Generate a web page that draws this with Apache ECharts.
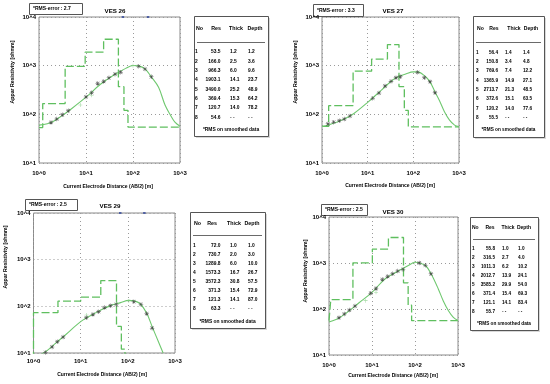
<!DOCTYPE html>
<html><head><meta charset="utf-8">
<script src="https://cdn.jsdelivr.net/npm/echarts/dist/echarts.min.js"></script>
<style>html,body{margin:0;padding:0;background:#fff}#c{width:550px;height:384px}</style>
</head><body><div id="c"></div>
<script>
// ---------- DATA ----------
const xTickLabels = ['10^0','10^1','10^2','10^3'];
const yTickLabels = ['10^1','10^2','10^3','10^4'];
const titles = ['VES 26','VES 27','VES 29','VES 30'];
const rmsErrors = ['2.7','3.3','2.5','2.5'];
const tableHeader = ['No','Res','Thick','Depth'];
const layerNo = ['1','2','3','4','5','6','7','8'];

// VES 26
const res26 = ['53.5','166.0','966.3','1903.1','3490.0','369.4','120.7','54.6'];
const thick26 = ['1.2','2.5','6.0','14.1','25.2','15.3','14.0','- -'];
const depth26 = ['1.2','3.6','9.6','23.7','48.9','64.2','78.2','- -'];
const stepRes26 = [53.5,166.0,966.3,1903.1,3490.0,369.4,120.7,54.6];
const stepDepth26 = [1.2,3.6,9.6,23.7,48.9,64.2,78.2];
const obs26X = [1.80,2.38,3.14,4.2,10,13.2,17.7,23.8,30.8,41.4,54.6,132,180,245];
const obs26Y = [68,80,98,119,228,279,432,474,562,667,732,968,850,589];
const lite26X = [7.57,13.2,100];
const lite26Y = [155,247,1000];
const calc26X = [1,1.5,2,3,5,10,20,40,70,100,130,180,245,350,480,620,780,1000];
const calc26Y = [60,64,71,92,132,225,410,650,880,1010,990,860,590,360,155,98,69,57];
const top26X = [61,209];

// VES 27
const res27 = ['56.4','150.8','769.6','1365.9','2713.7','372.6','120.2','55.5'];
const thick27 = ['1.4','3.4','7.4','14.9','21.3','15.1','14.0','- -'];
const depth27 = ['1.4','4.8','12.2','27.1','48.5','63.5','77.6','- -'];
const stepRes27 = [56.4,150.8,769.6,1365.9,2713.7,372.6,120.2,55.5];
const stepDepth27 = [1.4,4.8,12.2,27.1,48.5,63.5,77.6];
const obs27X = [1.35,1.8,2.4,3.08,4.1,12.9,17.7,24,32.4,41.7,51.9,124,174,232,298];
const obs27Y = [64,69,74,80,92,213,274,382,476,567,594,730,567,469,278];
const lite27X = [];
const lite27Y = [];
const calc27X = [1,1.5,2,3,5,10,20,40,70,100,125,175,230,300,370,480,615,800,1000];
const calc27Y = [56,62,68,79,104,176,315,550,680,745,745,620,470,285,195,113,77,60,56];
const top27X = [];

// VES 29
const res29 = ['72.0','730.7','1289.8','1573.3','3572.3','371.3','121.3','63.3'];
const thick29 = ['1.0','2.0','6.0','16.7','30.8','15.4','14.1','- -'];
const depth29 = ['1.0','3.0','10.0','26.7','57.5','72.9','87.0','- -'];
const stepRes29 = [7.2,73.1,129.0,157.3,357.2,37.1,12.1,6.3];
const stepDepth29 = [1.0,3.3,10.0,26.7,57.5,72.9,87.0];
const obs29X = [1.79,2.48,3.21,4.24,13.2,18.2,24,32.1,43,56.7,134,190,251,327];
const obs29Y = [10.3,13.5,17.5,22,57,67,77,94,103,110,126,110,70,34];
const lite29X = [13.4,105];
const lite29Y = [65,130];
const calc29X = [1.2,1.6,2,3,5,10,20,40,70,105,135,180,250,330,450,560];
const calc29Y = [8.4,9.9,11.5,16.5,25.5,47,71,101,120,134,131,115,72,36,17,10];
const top29X = [69,224];

// VES 30
const res30 = ['55.8','316.5','1011.3','2012.7','3585.2','371.4','121.1','55.7'];
const thick30 = ['1.0','2.7','6.2','13.9','29.9','15.4','14.1','- -'];
const depth30 = ['1.0','4.0','10.2','24.1','54.0','69.3','83.4','- -'];
const stepRes30 = [55.8,160,1011.3,2012.7,3585.2,371.4,121.1,55.7];
const stepDepth30 = [1.1,3.6,10.2,24.1,54.0,69.3,83.4];
const obs30X = [1.71,2.27,2.97,4.02,9.3,12.4,17.4,23.1,30.2,39.5,52.6,126,174,235];
const obs30Y = [64.6,78,95,116,220,279,439,510,583,668,726,1000,889,583];
const lite30X = [7.1,12.4,96];
const lite30Y = [152,232,1017];
const calc30X = [1,1.5,2,3,5,10,20,40,70,100,130,180,240,350,455,600,780,1000];
const calc30Y = [52,60,70,92,137,230,450,660,880,1040,1000,860,570,270,150,92,66,56];
const top30X = [];

// ---------- LAYOUT (positions / styles only) ----------
const FONT = 'Liberation Sans';
const layout = [
  {grid:{left:39,top:17,width:141,height:146}, xm:7, rms:[29,3,53,11], title:[115,11],
   xname:[108,187], yname:[13,72],
   tbl:{x:194,y:16,w:74,h:120,fs:4.9,hs:5.3,hy:29,ly:42,r1:52,rs:9.35,fy:130,no:195,res:220.5,th:230,dp:248,hc:[196,216,236,255]}},
  {grid:{left:322,top:17,width:137,height:146}, xm:7, rms:[313,4,50,12], title:[393,11],
   xname:[390,186], yname:[296,72],
   tbl:{x:473,y:16,w:71,h:121,fs:4.7,hs:5.1,hy:29,ly:42,r1:52.5,rs:9.3,fy:130,no:476,res:498,th:505,dp:523,hc:[477,494,514,531]}},
  {grid:{left:33.5,top:213,width:141.5,height:140}, xm:5, rms:[25,199,52,11], title:[110,206],
   xname:[102,375], yname:[6,257],
   tbl:{x:190,y:212,w:75,h:116,fs:4.9,hs:5.3,hy:224,ly:235,r1:245.5,rs:9.05,fy:322,no:193,res:220.5,th:230,dp:248,hc:[194,212,234,252]}},
  {grid:{left:329,top:217,width:129,height:138}, xm:7, rms:[321,204,46,11], title:[393,212],
   xname:[393,376], yname:[306,271],
   tbl:{x:470,y:217,w:68,h:113,fs:4.7,hs:5.0,hy:228,ly:239,r1:249,rs:8.9,fy:324,no:472,res:495,th:502,dp:518,hc:[472,490,508,524]}}
];

const panelData = [
  {res:res26,thick:thick26,depth:depth26,sr:stepRes26,sd:stepDepth26,ox:obs26X,oy:obs26Y,lx:lite26X,ly:lite26Y,cx:calc26X,cy:calc26Y,tx:top26X},
  {res:res27,thick:thick27,depth:depth27,sr:stepRes27,sd:stepDepth27,ox:obs27X,oy:obs27Y,lx:lite27X,ly:lite27Y,cx:calc27X,cy:calc27Y,tx:top27X},
  {res:res29,thick:thick29,depth:depth29,sr:stepRes29,sd:stepDepth29,ox:obs29X,oy:obs29Y,lx:lite29X,ly:lite29Y,cx:calc29X,cy:calc29Y,tx:top29X},
  {res:res30,thick:thick30,depth:depth30,sr:stepRes30,sd:stepDepth30,ox:obs30X,oy:obs30Y,lx:lite30X,ly:lite30Y,cx:calc30X,cy:calc30Y,tx:top30X}
];

const zip = (a,b) => a.map((v,i)=>[v,b[i]]);
function stepData(res, depth){
  const d=[[1,res[0]]];
  for(let i=0;i<depth.length;i++) d.push([depth[i],res[i+1]]);
  d.push([1000,res[res.length-1]]);
  return d;
}
const STAR = 'path://M4.4,0h1.2v10h-1.2z M0,4.4h10v1.2h-10z M0.8,1.6L1.6,0.8L9.2,8.4L8.4,9.2Z M8.4,0.8L9.2,1.6L1.6,9.2L0.8,8.4Z';
const PLUS = 'path://M4.3,0h1.4v10h-1.4z M0,4.3h10v1.4h-10z';

const grids=[], xAxes=[], yAxes=[], series=[], graphics=[];
const txt = (x,y,text,size,align,extra) => Object.assign({type:'text', x:x, y:y, silent:true,
  style:{text:text, fontFamily:FONT, fontWeight:'bold', fontSize:size, fill:'#000', align:align||'left', verticalAlign:'middle'}}, extra||{});

layout.forEach((L,i)=>{
  const P = panelData[i];
  grids.push(Object.assign({show:true, borderColor:'#8a8a8a', borderWidth:1, backgroundColor:'#fff'}, L.grid));
  xAxes.push({type:'log', logBase:10, min:1, max:1000, gridIndex:i,
    axisLine:{show:false}, axisTick:{show:false},
    splitLine:{show:true, lineStyle:{color:'#9a9a9a', type:[1,3], width:1}},
    axisLabel:{margin:L.xm, fontSize:6, fontWeight:'bold', fontFamily:FONT, color:'#000', showMinLabel:true, showMaxLabel:true,
      formatter:v=>xTickLabels[Math.round(Math.log10(v))]}});
  yAxes.push({type:'log', logBase:10, min:10, max:10000, gridIndex:i,
    axisLine:{show:false}, axisTick:{show:false},
    splitLine:{show:true, lineStyle:{color:'#9a9a9a', type:[1,3], width:1}},
    axisLabel:{margin:3, fontSize:6, fontWeight:'bold', fontFamily:FONT, color:'#000', showMinLabel:true, showMaxLabel:true,
      formatter:v=>yTickLabels[Math.round(Math.log10(v))-1]}});
  series.push({type:'line', xAxisIndex:i, yAxisIndex:i, data:stepData(P.sr,P.sd), step:'end', symbol:'none', clip:true,
    lineStyle:{color:'#5fbf5f', width:1.3, type:[8,3]}, silent:true, z:2});
  series.push({type:'line', xAxisIndex:i, yAxisIndex:i, data:zip(P.cx,P.cy), smooth:0.35, symbol:'none', clip:true,
    lineStyle:{color:'#6fc86f', width:1.1}, silent:true, z:3});
  series.push({type:'scatter', xAxisIndex:i, yAxisIndex:i, data:zip(P.lx,P.ly), symbol:PLUS, symbolSize:4,
    itemStyle:{color:'#8fd08f'}, silent:true, z:4});
  series.push({type:'scatter', xAxisIndex:i, yAxisIndex:i, data:zip(P.ox,P.oy), symbol:STAR, symbolSize:4.5,
    itemStyle:{color:'#3a3a3a'}, silent:true, z:5});
  series.push({type:'scatter', xAxisIndex:i, yAxisIndex:i, data:P.tx.map(v=>[v,10000]), symbol:'rect', symbolSize:[2.5,2],
    itemStyle:{color:'#33489a'}, silent:true, z:6});

  // RMS box
  const r=L.rms;
  graphics.push({type:'rect', shape:{x:r[0]+0.5,y:r[1]+0.5,width:r[2],height:r[3]}, style:{fill:'#fff', stroke:'#555', lineWidth:1}, silent:true});
  graphics.push(txt(r[0]+4, r[1]+r[3]/2+0.5, '*RMS-error : '+rmsErrors[i], 5.0, 'left'));
  // title
  graphics.push(txt(L.title[0], L.title[1], titles[i], 6.2, 'center'));
  // axis names
  graphics.push(txt(L.xname[0], L.xname[1], 'Current Electrode Distance (AB/2) [m]', 5, 'center'));
  graphics.push(txt(L.yname[0], L.yname[1], 'Appar Resistivity [ohmm]', 5.2, 'center', {rotation:Math.PI/2}));
  // table
  const T=L.tbl;
  graphics.push({type:'rect', shape:{x:T.x+2,y:T.y+2,width:T.w,height:T.h}, style:{fill:'#d8d8d8'}, silent:true});
  graphics.push({type:'rect', shape:{x:T.x+0.5,y:T.y+0.5,width:T.w,height:T.h}, style:{fill:'#fff', stroke:'#555', lineWidth:1}, silent:true});
  graphics.push(txt(T.hc[0], T.hy, tableHeader[0], T.hs, 'left'));
  graphics.push(txt(T.hc[1], T.hy, tableHeader[1], T.hs, 'center'));
  graphics.push(txt(T.hc[2], T.hy, tableHeader[2], T.hs, 'center'));
  graphics.push(txt(T.hc[3], T.hy, tableHeader[3], T.hs, 'center'));
  graphics.push({type:'line', shape:{x1:T.x+3,y1:T.ly+0.5,x2:T.x+T.w-3,y2:T.ly+0.5}, style:{stroke:'#444', lineWidth:0.8}, silent:true});
  for(let k=0;k<8;k++){
    const y=T.r1+k*T.rs;
    graphics.push(txt(T.no, y, layerNo[k], T.fs, 'left'));
    graphics.push(txt(T.res, y, P.res[k], T.fs, 'right'));
    graphics.push(txt(T.th, y, P.thick[k], T.fs, 'left'));
    graphics.push(txt(T.dp, y, P.depth[k], T.fs, 'left'));
  }
  graphics.push(txt(T.x+T.w/2, T.fy, '*RMS on smoothed data', T.fs, 'center'));
});

const chart = echarts.init(document.getElementById('c'), null, {renderer:'canvas'});
chart.setOption({animation:false, backgroundColor:'#fff', grid:grids, xAxis:xAxes, yAxis:yAxes, series:series, graphic:graphics});
</script></body></html>
